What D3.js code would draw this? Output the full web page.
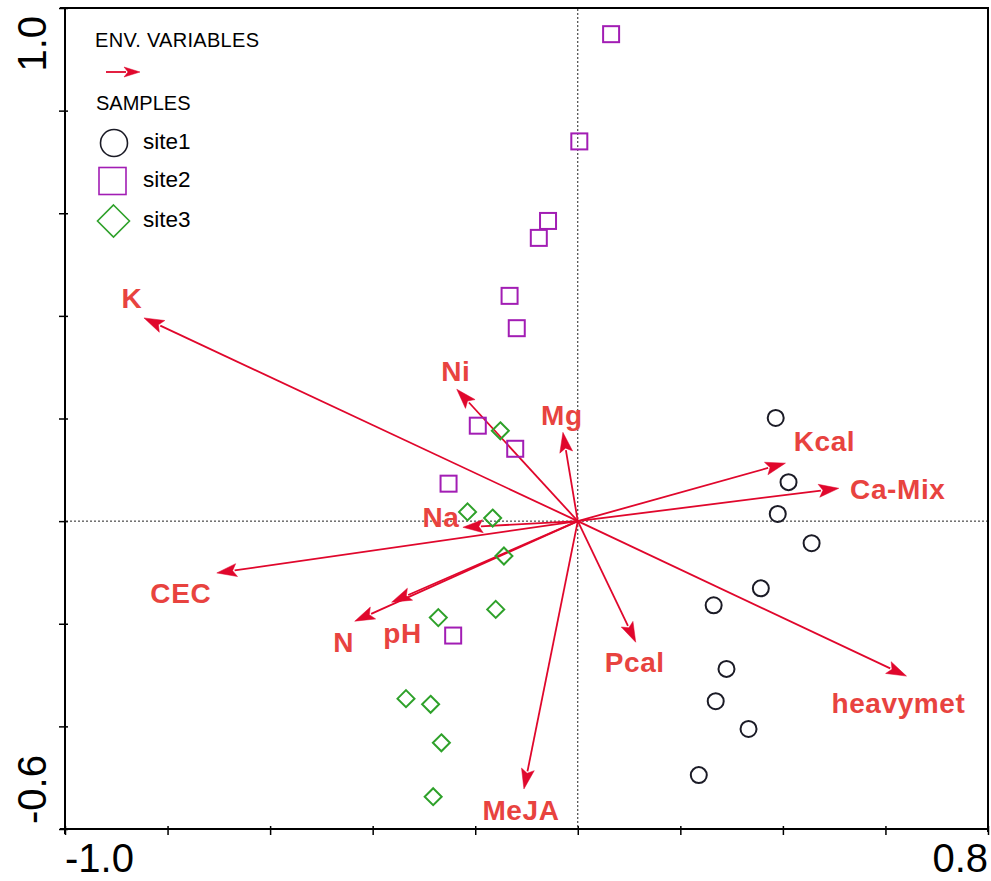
<!DOCTYPE html>
<html>
<head>
<meta charset="utf-8">
<script src="https://cdn.jsdelivr.net/npm/d3@7"></script>
<style>
  html, body { margin: 0; padding: 0; background: #fff; }
  svg { display: block; font-family: Arial, "Liberation Sans", sans-serif; }
</style>
</head>
<body>
<svg id="chart" width="991" height="881"></svg>
<script>
// Environmental variables (biplot arrow tips, axis 1 / axis 2 scores)
const envNames = ["K", "Ni", "Mg", "Kcal", "Ca-Mix", "heavymet", "Pcal", "MeJA", "N", "pH", "CEC", "Na"];
const envX = [-0.846, -0.236, -0.029, 0.405, 0.509, 0.641, 0.113, -0.105, -0.435, -0.363, -0.704, -0.224];
const envY = [0.396, 0.257, 0.173, 0.113, 0.064, -0.302, -0.236, -0.522, -0.195, -0.158, -0.101, -0.012];

// Sample scores per site
const site1X = [0.386, 0.411, 0.390, 0.456, 0.357, 0.265, 0.290, 0.269, 0.333, 0.236];
const site1Y = [0.201, 0.076, 0.014, -0.043, -0.131, -0.164, -0.288, -0.351, -0.405, -0.495];
const site2X = [0.065, 0.003, -0.058, -0.076, -0.133, -0.119, -0.195, -0.122, -0.252, -0.243];
const site2Y = [0.949, 0.740, 0.585, 0.552, 0.439, 0.376, 0.186, 0.141, 0.073, -0.223];
const site3X = [-0.151, -0.215, -0.166, -0.144, -0.272, -0.160, -0.335, -0.287, -0.266, -0.282];
const site3Y = [0.176, 0.018, 0.006, -0.068, -0.188, -0.172, -0.346, -0.357, -0.432, -0.537];

const siteNames = ["site1", "site2", "site3"];

// Axis ticks and end labels
const xTicks = [-1.0, -0.8, -0.6, -0.4, -0.2, 0.0, 0.2, 0.4, 0.6, 0.8];
const yTicks = [-0.6, -0.4, -0.2, 0.0, 0.2, 0.4, 0.6, 0.8, 1.0];
const xEndLabels = ["-1.0", "0.8"];
const yEndLabels = ["-0.6", "1.0"];

// ---- layout ----
const plot = { left: 65, right: 988, top: 8, bottom: 829 };
const arrowColor = "#e0072c";
const labelColor = "#e8433f";
const siteColors = ["#1b1b26", "#a21db4", "#2ea12a"];

// label offsets (px) relative to arrow tips
const labelOffsets = [
  [-12, -10], [-1, -8], [-1, -7], [39, -12], [59, 11], [-8, 37],
  [-1, 30], [-3, 31], [-11, 31], [11, 41], [-36, 30], [-22, 0]
];

const svg = d3.select("#chart");

const x = d3.scaleLinear().domain([-1.0, 0.8]).range([plot.left, plot.right]);
const y = d3.scaleLinear().domain([-0.6, 1.0]).range([plot.bottom, plot.top]);

// ---- frame and axes ----
const axisG = svg.append("g");

const xAxis = d3.axisBottom(x).tickValues(xTicks).tickSize(6).tickFormat("");
const gx = axisG.append("g").attr("transform", `translate(0,${plot.bottom})`).call(xAxis);
gx.select(".domain").remove();
gx.selectAll(".tick line").attr("y1", -3).attr("y2", 6).attr("stroke", "#000").attr("stroke-width", 1.5);

const yAxis = d3.axisLeft(y).tickValues(yTicks).tickSize(6).tickFormat("");
const gy = axisG.append("g").attr("transform", `translate(${plot.left},0)`).call(yAxis);
gy.select(".domain").remove();
gy.selectAll(".tick line").attr("x1", 3).attr("x2", -6).attr("stroke", "#000").attr("stroke-width", 1.5);

// box lines
const frame = axisG.append("g").attr("stroke", "#000").attr("stroke-width", 2).attr("fill", "none");
frame.append("line").attr("x1", plot.left - 5).attr("x2", plot.right + 1).attr("y1", plot.bottom).attr("y2", plot.bottom);
frame.append("line").attr("x1", plot.left - 5).attr("x2", plot.right + 1).attr("y1", plot.top).attr("y2", plot.top);
frame.append("line").attr("x1", plot.left).attr("x2", plot.left).attr("y1", plot.top).attr("y2", plot.bottom + 5);
frame.append("line").attr("x1", plot.right).attr("x2", plot.right).attr("y1", plot.top).attr("y2", plot.bottom + 3);

// end labels
const tickFont = 40;
axisG.append("text").attr("x", x(-1.0)).attr("y", 872).attr("font-size", tickFont)
  .attr("text-anchor", "start").attr("fill", "#000").text(xEndLabels[0]);
axisG.append("text").attr("x", x(0.8)).attr("y", 872).attr("font-size", tickFont)
  .attr("text-anchor", "end").attr("fill", "#000").text(xEndLabels[1]);
axisG.append("text").attr("transform", `translate(46,${y(-0.6) - 5}) rotate(-90)`).attr("font-size", tickFont)
  .attr("text-anchor", "start").attr("fill", "#000").text(yEndLabels[0]);
axisG.append("text").attr("transform", `translate(46,${y(1.0) + 8}) rotate(-90)`).attr("font-size", tickFont)
  .attr("text-anchor", "end").attr("fill", "#000").text(yEndLabels[1]);

// ---- zero reference lines ----
const ref = svg.append("g").attr("stroke", "#222").attr("stroke-width", 1).attr("stroke-dasharray", "2,2");
ref.append("line").attr("x1", x(0)).attr("x2", x(0)).attr("y1", plot.top + 1).attr("y2", plot.bottom - 1);
ref.append("line").attr("x1", plot.left + 1).attr("x2", plot.right - 1).attr("y1", y(0)).attr("y2", y(0));

// ---- arrows ----
function drawArrow(g, x0, y0, x1, y1, headLen, headHalf, width) {
  const dx = x1 - x0, dy = y1 - y0;
  const len = Math.hypot(dx, dy);
  const ux = dx / len, uy = dy / len;
  const bx = x1 - ux * headLen, by = y1 - uy * headLen;
  g.append("line").attr("x1", x0).attr("y1", y0)
    .attr("x2", x1 - ux * (headLen - 2)).attr("y2", y1 - uy * (headLen - 2))
    .attr("stroke", arrowColor).attr("stroke-width", width);
  const pts = [
    [x1, y1],
    [bx - uy * headHalf, by + ux * headHalf],
    [bx + ux * 4, by + uy * 4],
    [bx + uy * headHalf, by - ux * headHalf]
  ];
  g.append("path").attr("d", "M" + pts.map(p => p.join(",")).join("L") + "Z")
    .attr("fill", arrowColor).attr("stroke", arrowColor).attr("stroke-width", 0.5);
}

const arrowsG = svg.append("g");
envNames.forEach((name, i) => {
  drawArrow(arrowsG, x(0), y(0), x(envX[i]), y(envY[i]), 20, 6.5, 1.8);
});

const labelsG = svg.append("g");
envNames.forEach((name, i) => {
  labelsG.append("text")
    .attr("x", x(envX[i]) + labelOffsets[i][0])
    .attr("y", y(envY[i]) + labelOffsets[i][1])
    .attr("text-anchor", "middle")
    .attr("font-size", 28)
    .attr("letter-spacing", 0.6)
    .attr("font-weight", "bold")
    .attr("fill", labelColor)
    .text(name);
});

// ---- samples ----
const symbolsG = svg.append("g").attr("fill", "none").attr("stroke-width", 2);
const s1 = site1X.map((v, i) => [v, site1Y[i]]);
const s2 = site2X.map((v, i) => [v, site2Y[i]]);
const s3 = site3X.map((v, i) => [v, site3Y[i]]);

symbolsG.selectAll(".s1").data(s1).join("circle")
  .attr("cx", d => x(d[0])).attr("cy", d => y(d[1])).attr("r", 8)
  .attr("stroke", siteColors[0]);

symbolsG.selectAll(".s2").data(s2).join("rect")
  .attr("x", d => x(d[0]) - 8).attr("y", d => y(d[1]) - 8)
  .attr("width", 16).attr("height", 16)
  .attr("stroke", siteColors[1]);

const diamond = (cx, cy, h) => `M${cx},${cy - h}L${cx + h},${cy}L${cx},${cy + h}L${cx - h},${cy}Z`;
symbolsG.selectAll(".s3").data(s3).join("path")
  .attr("d", d => diamond(x(d[0]), y(d[1]), 8.5))
  .attr("stroke", siteColors[2]);

// ---- legend ----
const leg = svg.append("g").attr("fill", "#000");
leg.append("text").attr("x", 95).attr("y", 47).attr("font-size", 20).attr("letter-spacing", 0.3).text("ENV. VARIABLES");
drawArrow(leg, 106, 72, 140, 72, 16, 5, 1.8);
leg.append("text").attr("x", 96).attr("y", 110).attr("font-size", 20).text("SAMPLES");

const legY = [143, 181, 221];
leg.append("circle").attr("cx", 114).attr("cy", legY[0]).attr("r", 13.5)
  .attr("fill", "none").attr("stroke", siteColors[0]).attr("stroke-width", 1.6);
leg.append("rect").attr("x", 99).attr("y", legY[1] - 13.5).attr("width", 27).attr("height", 27)
  .attr("fill", "none").attr("stroke", siteColors[1]).attr("stroke-width", 1.6);
leg.append("path").attr("d", diamond(113.5, legY[2], 16))
  .attr("fill", "none").attr("stroke", siteColors[2]).attr("stroke-width", 1.6);

siteNames.forEach((n, i) => {
  leg.append("text").attr("x", 143).attr("y", legY[i] + 6).attr("font-size", 22.5).text(n);
});
</script>
</body>
</html>
